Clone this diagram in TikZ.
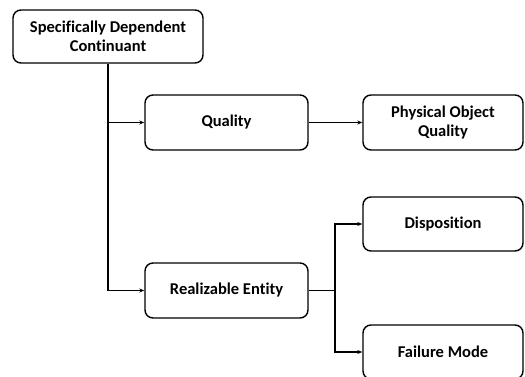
\documentclass[tikz,border=0pt]{standalone}
\usepackage{fontspec}
\setmainfont{Carlito}[Ligatures=NoCommon]
\usetikzlibrary{arrows.meta}
\begin{document}
\begin{tikzpicture}[x=1pt,y=-1pt,
  box/.style={draw, line width=1.4pt, rounded corners=8pt, fill=white,
    align=center, font=\bfseries\fontsize{16.5}{19}\selectfont,
    inner sep=2pt, minimum width=#1},
  box/.default=160pt,
  link/.style={line width=1.4pt, -{Stealth[length=5pt,width=4pt]}}]
\useasboundingbox (0,0) rectangle (525,376);
\node[box=190pt, minimum height=53pt] (sdc) at (108,36.5) {Specifically Dependent\\Continuant};
\node[box=163pt, minimum height=55pt] (quality) at (226.5,122.5) {Quality};
\node[box=160pt, minimum height=55pt] (poq) at (443,122.5) {Physical Object\\Quality};
\node[box=163pt, minimum height=55pt] (re) at (226.5,290.5) {Realizable Entity};
\node[box=160pt, minimum height=54pt] (disp) at (443,224) {Disposition};
\node[box=160pt, minimum height=54pt] (fm) at (443,352) {Failure Mode};
\coordinate (br) at (335,290.5);
\draw[link] (sdc.south) |- (quality.west);
\draw[link] (sdc.south) |- (re.west);
\draw[link] (quality.east) -- (poq.west);
\draw[link] (re.east) -- (br) |- (disp.west);
\draw[link] (br) |- (fm.west);
\end{tikzpicture}
\end{document}
